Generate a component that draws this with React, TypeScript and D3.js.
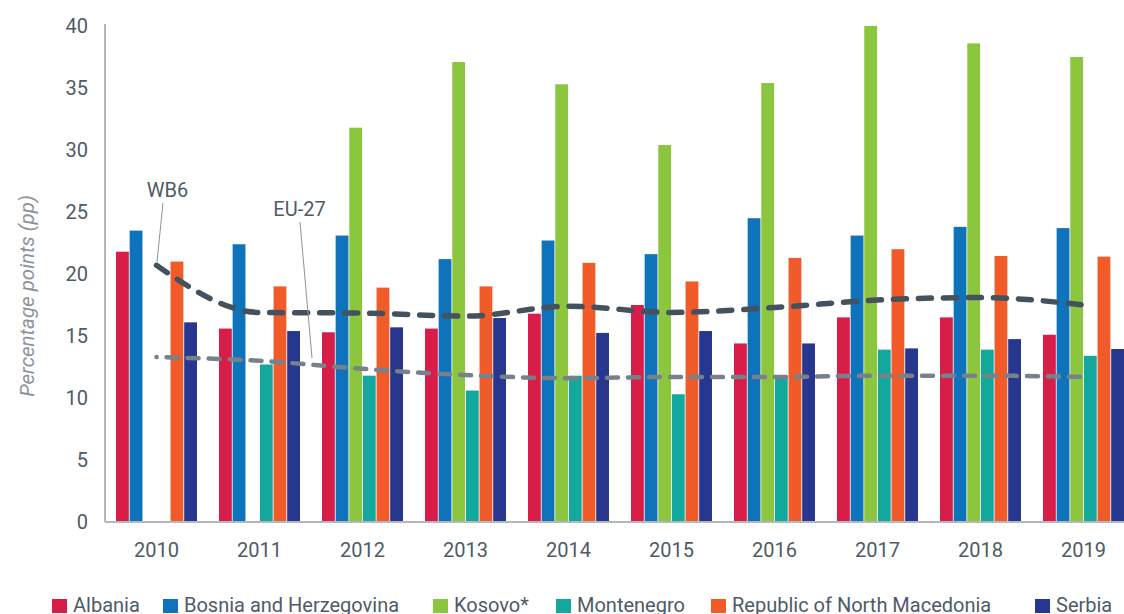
import React from 'react';
import * as d3 from 'd3';

const years = ['2010', '2011', '2012', '2013', '2014', '2015', '2016', '2017', '2018', '2019'];
const countries = ['Albania', 'Bosnia and Herzegovina', 'Kosovo*', 'Montenegro', 'Republic of North Macedonia', 'Serbia'];
const colors = ['#d81e48', '#0f73bb', '#8cc63f', '#13a89e', '#f15a29', '#27378f'];

const albania = [21.8, 15.6, 15.3, 15.6, 16.8, 17.5, 14.4, 16.5, 16.5, 15.1];
const bosnia = [23.5, 22.4, 23.1, 21.2, 22.7, 21.6, 24.5, 23.1, 23.8, 23.7];
const kosovo = [null, null, 31.8, 37.1, 35.3, 30.4, 35.4, 40.0, 38.6, 37.5];
const montenegro = [null, 12.7, 11.8, 10.6, 11.8, 10.3, 11.8, 13.9, 13.9, 13.4];
const macedonia = [21.0, 19.0, 18.9, 19.0, 20.9, 19.4, 21.3, 22.0, 21.45, 21.4];
const serbia = [16.1, 15.4, 15.7, 16.45, 15.25, 15.4, 14.4, 14.0, 14.75, 13.95];

const wb6 = [20.7, 16.9, 16.85, 16.6, 17.4, 16.9, 17.3, 17.9, 18.1, 17.5];
const eu27 = [13.3, 13.0, 12.35, 11.85, 11.6, 11.7, 11.7, 11.8, 11.8, 11.7];

const yTicks = [0, 5, 10, 15, 20, 25, 30, 35, 40];

const series = [albania, bosnia, kosovo, montenegro, macedonia, serbia];

export default function App() {
  const width = 1124;
  const height = 614;
  const left = 105;
  const top = 26;
  const bottom = 522;

  const x0 = d3.scaleBand<string>()
    .domain(years)
    .range([left, left + 1030])
    .paddingInner(0.2136)
    .paddingOuter(0.1068);

  const x1 = d3.scaleBand<string>()
    .domain(countries)
    .range([0, x0.bandwidth()])
    .paddingInner(0.06);

  const y = d3.scaleLinear().domain([0, 40]).range([bottom, top]);

  const center = (yr: string) => (x0(yr) as number) + x0.bandwidth() / 2;

  const line = d3.line<number>()
    .x((d, i) => center(years[i]))
    .y(d => y(d))
    .curve(d3.curveMonotoneX);

  const textColor = '#4d5b68';

  return (
    <svg width={width} height={height} style={{ position: 'absolute', left: 0, top: 0, fontFamily: 'Roboto' }}>
      <rect width={width} height={height} fill="#fff" />

      {/* bars */}
      {series.map((vals, si) =>
        vals.map((v, i) => v == null ? null : (
          <rect
            key={si + '-' + i}
            x={(x0(years[i]) as number) + (x1(countries[si]) as number)}
            y={y(v)}
            width={x1.bandwidth()}
            height={y(0) - y(v)}
            fill={colors[si]}
          />
        ))
      )}

      {/* axes */}
      <line x1={left} x2={left} y1={top - 2} y2={bottom} stroke="#b3b8bd" strokeWidth={2} />
      <line x1={left} x2={width} y1={bottom} y2={bottom} stroke="#b3b8bd" strokeWidth={2} />

      {yTicks.map(t => (
        <text key={t} x={88} y={y(t)} dy="0.36em" textAnchor="end" fontSize={20} fill={textColor}>{t}</text>
      ))}
      {years.map(yr => (
        <text key={yr} x={center(yr)} y={557} textAnchor="middle" fontSize={20} fill={textColor}>{yr}</text>
      ))}

      <text transform="translate(34,296) rotate(-90)" textAnchor="middle" fontSize={20.5} fontStyle="italic" fill="#8b949c">
        Percentage points (pp)
      </text>

      {/* lines */}
      <path d={line(wb6) as string} fill="none" stroke="#44525e" strokeWidth={5.5} strokeLinecap="round" strokeDasharray="13 12" />
      <path d={line(eu27) as string} fill="none" stroke="#77818a" strokeWidth={4.5} strokeLinecap="round" strokeDasharray="11 10" strokeDashoffset={10.9} />

      {/* annotations */}
      <line x1={163} y1={203} x2={157} y2={262} stroke="#8b949c" strokeWidth={1} />
      <text x={167.5} y={197} textAnchor="middle" fontSize={20} fill={textColor}>WB6</text>
      <line x1={300} y1={222} x2={312} y2={358} stroke="#8b949c" strokeWidth={1} />
      <text x={299.5} y={216} textAnchor="middle" fontSize={20} fill={textColor}>EU-27</text>

      {/* legend */}
      {countries.map((c, i) => {
        const xs = [52, 163, 433, 556, 711, 1035];
        return (
          <g key={c}>
            <rect x={xs[i]} y={599} width={15} height={14} fill={colors[i]} />
            <text x={xs[i] + 21} y={612} fontSize={20} fill={textColor}>{c}</text>
          </g>
        );
      })}
    </svg>
  );
}
